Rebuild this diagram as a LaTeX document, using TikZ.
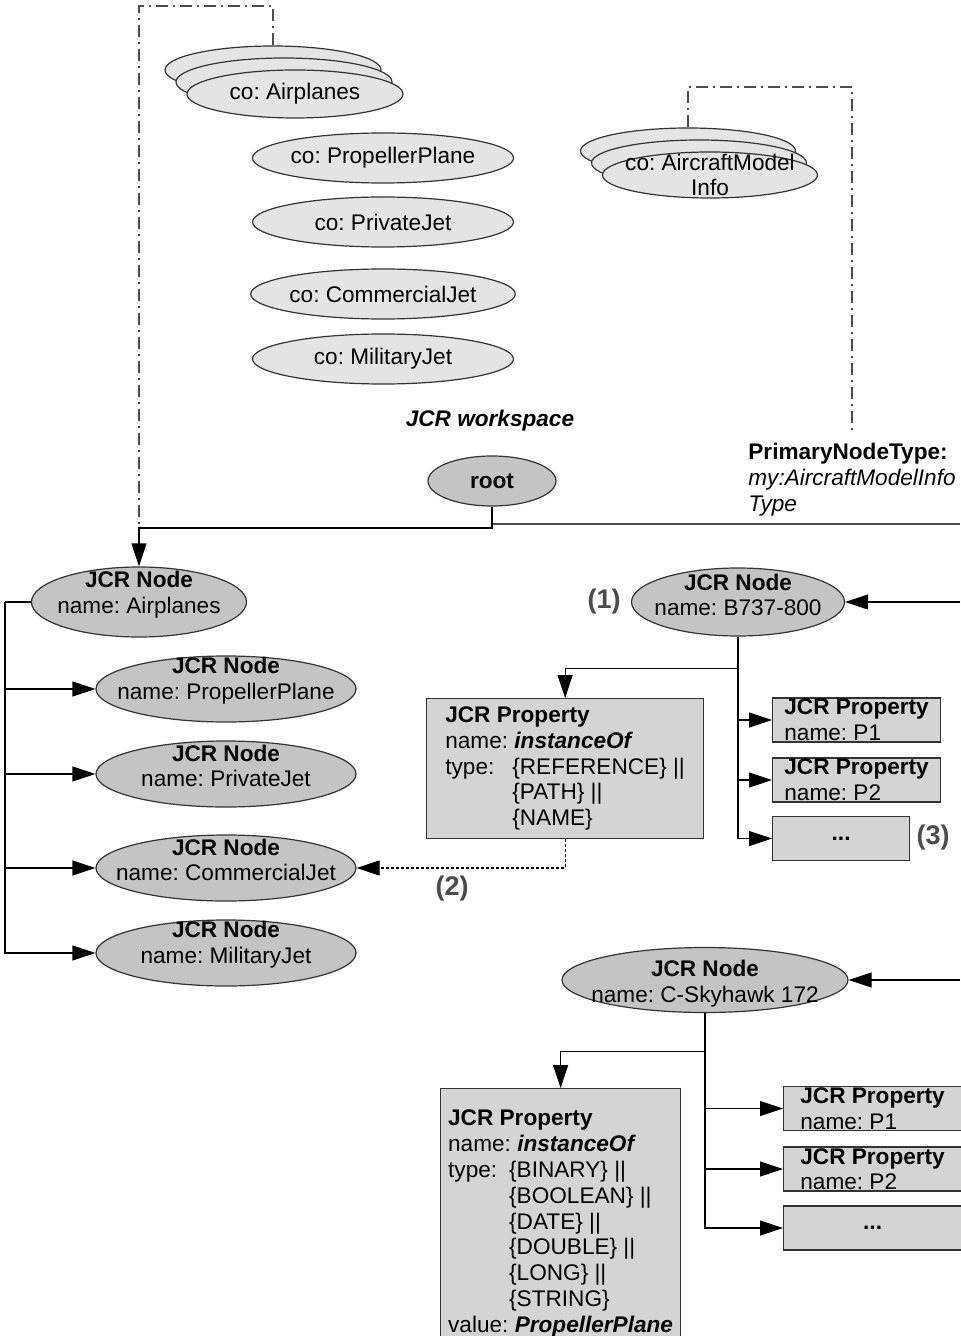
\documentclass[tikz,border=0pt]{standalone}
\usepackage{fontspec}
\setmainfont{Liberation Sans}
\usepackage{tikz}
\usetikzlibrary{shapes.geometric}
\usetikzlibrary{arrows.meta}
\usepackage{xcolor}
\definecolor{nodegray}{RGB}{196,196,196}
\definecolor{cogray}{RGB}{228,228,228}
\definecolor{boxgray}{RGB}{212,212,212}
\definecolor{numgray}{RGB}{75,75,75}

\begin{document}
\begin{tikzpicture}[x=10pt, y=10pt,
    font=\fontsize{11.3}{12.9}\selectfont\frenchspacing,
    jnode/.style={draw=black!80, line width=0.6pt, ellipse, fill=nodegray, inner sep=0pt},
    conode/.style={draw=black!80, line width=0.6pt, ellipse, fill=cogray, inner sep=0pt},
    jtext/.style={align=center, inner sep=0pt},
    propbox/.style={draw=black!80, line width=0.6pt, rectangle, fill=boxgray, align=left, anchor=north west},
    smallbox/.style={draw=black!80, line width=0.6pt, rectangle, fill=boxgray, align=left, anchor=west,
        minimum height=22pt, inner ysep=0pt, text depth=0pt},
    arr/.style={-{Triangle[length=11.5pt, width=7.5pt]}, line width=0.6pt},
    link/.style={draw=black!70, line width=0.6pt, dash pattern=on 6pt off 2.5pt on 1pt off 2.5pt},
    num/.style={font=\fontsize{13.5}{15}\selectfont\bfseries, text=numgray}]

    \useasboundingbox (0,0) rectangle (48,-66.8);

    % Content objects
    \node[conode, minimum width=108pt, minimum height=24pt] (coairB) at (13.65,-3.5) {};
    \node[conode, minimum width=108pt, minimum height=24pt] (coairM) at (14.2,-4.1) {};
    \node[conode, minimum width=108pt, minimum height=24pt] (coair) at (14.75,-4.7) {co: Airplanes};

    \node[conode, minimum width=130.5pt, minimum height=25pt] (coprop) at (19.15,-7.9) {co: PropellerPlane};
    \node[conode, minimum width=130.5pt, minimum height=25pt] (copriv) at (19.15,-11.1) {co: PrivateJet};
    \node[conode, minimum width=130.5pt, minimum height=25pt] (cocomm) at (19.15,-14.7) {co: CommercialJet};
    \node[conode, minimum width=130.5pt, minimum height=25pt] (comil) at (19.15,-17.95) {co: MilitaryJet};

    \node[conode, minimum width=107.5pt, minimum height=23pt] (coamiB) at (34.4,-7.55) {};
    \node[conode, minimum width=107.5pt, minimum height=23pt] (coamiM) at (34.95,-8.15) {};
    \node[conode, minimum width=107.5pt, minimum height=23pt] (coami) at (35.5,-8.75) {};
    \node[jtext] (coami-t) at (35.5,-8.75) {co: AircraftModel\\Info};

    % Dash-dot links to the workspace
    \coordinate (ltop) at (6.95,-0.3);
    \coordinate (lcorner) at (6.95,-26.4);
    \draw[link] (coairB.north) -- (coairB.north |- ltop) -- (ltop) -- (lcorner);
    \coordinate (rtop) at (42.6,-4.35);
    \coordinate (ptlink) at (42.6,-21.5);
    \draw[link] (coamiB.north) |- (rtop) -- (ptlink);

    % Workspace
    \node[font=\fontsize{11.3}{12.9}\selectfont\bfseries\itshape] (ws) at (24.5,-21.05) {JCR workspace};
    \node[jnode, minimum width=64pt, minimum height=25pt, font=\fontsize{11.3}{12.9}\selectfont\bfseries]
        (root) at (24.6,-24.05) {root};
    \node[align=left, anchor=north west, inner sep=0pt] (ptype) at (37.4,-22.15)
        {\textbf{PrimaryNodeType:}\\\textit{my:AircraftModelInfo}\\\textit{Type}};

    % Node type tree
    \node[jnode, minimum width=107.5pt, minimum height=35pt] (airplanes) at (6.95,-30.1) {};
    \node[jtext] (airplanes-t) at (6.95,-29.75) {\textbf{JCR Node}\\name: Airplanes};
    \node[jnode, minimum width=130pt, minimum height=33pt] (propeller) at (11.3,-34.45) {};
    \node[jtext] (propeller-t) at (11.3,-34.05) {\textbf{JCR Node}\\name: PropellerPlane};
    \node[jnode, minimum width=130pt, minimum height=33pt] (private) at (11.3,-38.7) {};
    \node[jtext] (private-t) at (11.3,-38.3) {\textbf{JCR Node}\\name: PrivateJet};
    \node[jnode, minimum width=130pt, minimum height=33pt] (commercial) at (11.3,-43.4) {};
    \node[jtext] (commercial-t) at (11.3,-43.0) {\textbf{JCR Node}\\name: CommercialJet};
    \node[jnode, minimum width=130pt, minimum height=33pt] (military) at (11.3,-47.65) {};
    \node[jtext] (military-t) at (11.3,-47.25) {\textbf{JCR Node}\\name: MilitaryJet};

    % Aircraft model B737-800
    \node[jnode, minimum width=106.5pt, minimum height=34pt] (b737) at (36.9,-30.1) {};
    \node[jtext] (b737-t) at (36.9,-29.75) {\textbf{JCR Node}\\name: B737-800};
    \node[num] (n1) at (30.2,-30.1) {(1)};
    \node[propbox, minimum width=138.5pt, minimum height=70pt] (prop1) at (21.3,-34.9)
        {\textbf{JCR Property}\\
         name: \textbf{\textit{instanceOf}}\\
         \makebox[33.5pt][l]{type:}\{REFERENCE\} ||\\
         \hspace*{33.5pt}\{PATH\} ||\\
         \hspace*{33.5pt}\{NAME\}};
    \node[smallbox, minimum width=84pt] (p1a) at (38.6,-36.0) {\textbf{JCR Property}\\name: P1};
    \node[smallbox, minimum width=84pt] (p2a) at (38.6,-39.0) {\textbf{JCR Property}\\name: P2};
    \node[smallbox, minimum width=68.5pt, align=center] (dotsa) at (38.6,-41.925) {\textbf{...}};
    \node[num] (n3) at (46.65,-41.9) {(3)};
    \node[num] (n2) at (22.6,-44.45) {(2)};

    % Aircraft model C-Skyhawk 172
    \node[jnode, minimum width=143pt, minimum height=32.5pt] (sky) at (35.25,-49.0) {};
    \node[jtext] (sky-t) at (35.25,-49.2) {\textbf{JCR Node}\\name: C-Skyhawk 172};
    \node[propbox, minimum width=120pt, minimum height=135pt] (prop2) at (22.0,-54.4)
        {\textbf{JCR Property}\\
         name: \textbf{\textit{instanceOf}}\\
         \makebox[30.5pt][l]{type:}\{BINARY\} ||\\
         \hspace*{30.5pt}\{BOOLEAN\} ||\\
         \hspace*{30.5pt}\{DATE\} ||\\
         \hspace*{30.5pt}\{DOUBLE\} ||\\
         \hspace*{30.5pt}\{LONG\} ||\\
         \hspace*{30.5pt}\{STRING\}\\
         value: \textbf{\textit{PropellerPlane}}};
    \node[smallbox, minimum width=89pt] (p1b) at (39.15,-55.425) {\textbf{JCR Property}\\name: P1};
    \node[smallbox, minimum width=89pt] (p2b) at (39.15,-58.45) {\textbf{JCR Property}\\name: P2};
    \node[smallbox, minimum width=89pt, align=center] (dotsb) at (39.15,-61.4) {\textbf{...}};

    % Connectors from root
    \coordinate (rout) at (48,-26.2);
    \draw[line width=1.2pt, draw=black!70] (root.south |- rout) -- (rout);
    \draw[arr] (root.south) |- (lcorner) -- (airplanes.north);

    % Airplanes children
    \coordinate (ltrunk) at (0.25,-30.1);
    \draw[line width=0.6pt] (airplanes.west) -- (ltrunk);
    \draw[arr] (ltrunk) |- (propeller.west);
    \draw[arr] (ltrunk) |- (private.west);
    \draw[arr] (ltrunk) |- (commercial.west);
    \draw[arr] (ltrunk) |- (military.west);

    % B737-800 properties
    \coordinate (b737in) at (48,-30.1);
    \draw[arr] (b737in) -- (b737.east);
    \draw[arr] (b737.south) -- ++(0,-1.6) -| (prop1.north);
    \draw[arr] (b737.south) |- (p1a.west);
    \draw[arr] (b737.south) |- (p2a.west);
    \draw[arr] (b737.south) |- (dotsa.west);
    \draw[arr, dash pattern=on 1.5pt off 1pt] (prop1.south) |- (commercial.east);

    % C-Skyhawk 172 properties
    \coordinate (skyin) at (48,-49.0);
    \draw[arr] (skyin) -- (sky.east);
    \draw[arr] (sky.south) -- ++(0,-1.9) -| (prop2.north);
    \draw[arr] (sky.south) |- (p1b.west);
    \draw[arr] (sky.south) |- (p2b.west);
    \draw[arr] (sky.south) |- (dotsb.west);
\end{tikzpicture}
\end{document}
